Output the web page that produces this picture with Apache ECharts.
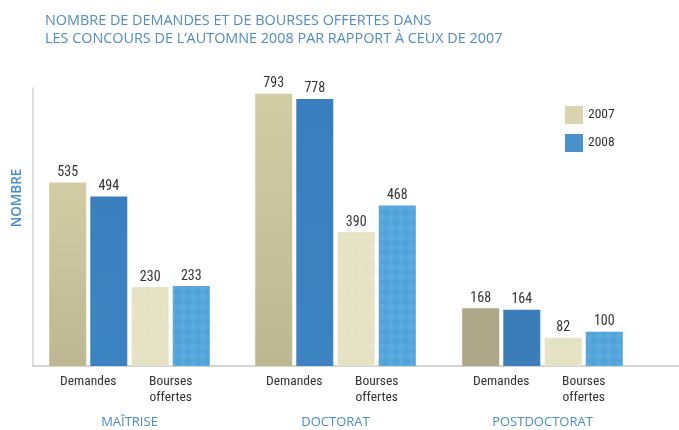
<!DOCTYPE html>
<html>
<head>
<meta charset="utf-8">
<script src="https://cdn.jsdelivr.net/npm/echarts@6/dist/echarts.min.js"></script>
<style>
  html, body { margin: 0; padding: 0; background: #fff; }
  #chart { width: 679px; height: 430px; }
</style>
</head>
<body>
<div id="chart"></div>
<script>
// data
const levels = ['MAÎTRISE', 'DOCTORAT', 'POSTDOCTORAT']
const kinds = ['Demandes', 'Bourses\noffertes']
const years = ['2007', '2008']
const values2007 = [[535, 230], [793, 390], [168, 82]]
const values2008 = [[494, 233], [778, 468], [164, 100]]

const blue = '#4a8dc6'
const narrow = '"Liberation Sans Narrow", "Roboto Condensed", "Liberation Sans", sans-serif'
const sans = '"Open Sans", sans-serif'

// bar colours: [demandes, bourses] per year, postdoc demandes a bit darker
const colors = {
  '2007': { dem: ['#d3cda6', '#bdb792'], bou: '#e5e1c3', post: '#aca887' },
  '2008': { dem: ['#3a7fbd', '#3c84c1'], bou: '#50a3da', post: '#3a7db8' }
}

// faint diamond checker like the print texture on the "bourses" bars
const checker = {
  symbol: 'rect', symbolSize: 1, rotation: Math.PI / 4,
  color: 'rgba(255,255,255,0.07)',
  dashArrayX: [[7, 7], [0, 7, 7, 0]], dashArrayY: [7, 0]
}

function barStyle(year, level, kind) {
  const c = colors[year]
  if (kind === 1) return { color: c.bou, decal: checker }
  if (level === 2) return { color: c.post }
  return {
    color: new echarts.graphic.LinearGradient(0, 0, 0, 1, [
      { offset: 0, color: c.dem[0] },
      { offset: 1, color: c.dem[1] }
    ])
  }
}

const grids = [
  { left: 47, width: 165, top: 88, bottom: 64 },
  { left: 253, width: 165, top: 88, bottom: 64 },
  { left: 460, width: 165, top: 88, bottom: 64 },
  { left: 33, right: 0, top: 88, bottom: 64 },
  // only carries the "NOMBRE" name, centred a little higher than the axis
  { left: 33, width: 1, top: 60, bottom: 94 }
].map(g => Object.assign({ outerBoundsMode: 'none', containLabel: false }, g))

const xAxes = levels.map((lvl, i) => ({
  gridIndex: i,
  type: 'category',
  data: kinds,
  axisLine: { show: false },
  axisTick: { show: false },
  axisLabel: { color: '#333', fontSize: 13.5, lineHeight: 16, margin: 8, fontFamily: narrow },
  name: lvl,
  nameLocation: 'middle',
  nameGap: 50,
  nameTextStyle: { color: blue, fontSize: 13, fontFamily: sans }
}))
xAxes.push({
  gridIndex: 3, type: 'value', min: 0, max: 1,
  axisLine: { show: true, lineStyle: { color: '#c8c8c8', width: 1.5 } },
  axisTick: { show: false }, axisLabel: { show: false }, splitLine: { show: false }
})
xAxes.push({ gridIndex: 4, type: 'value', show: false })

const yAxes = levels.map((lvl, i) => ({
  gridIndex: i, type: 'value', min: 0, max: 810, show: false
}))
yAxes.push({
  gridIndex: 3, type: 'value', min: 0, max: 1,
  axisLine: { show: true, lineStyle: { color: '#d2d2d2', width: 1.5 } },
  axisTick: { show: false }, axisLabel: { show: false }, splitLine: { show: false }
})
yAxes.push({
  gridIndex: 4, type: 'value', min: 0, max: 1,
  axisLine: { show: false }, axisTick: { show: false },
  axisLabel: { show: false }, splitLine: { show: false },
  name: 'NOMBRE', nameLocation: 'middle', nameRotate: 90, nameGap: 9,
  nameTextStyle: { color: blue, fontSize: 13.5, fontWeight: 600, fontFamily: sans }
})

const series = []
levels.forEach((lvl, i) => {
  years.forEach((yr) => {
    const vals = yr === '2007' ? values2007[i] : values2008[i]
    series.push({
      name: yr,
      type: 'bar',
      xAxisIndex: i,
      yAxisIndex: i,
      barWidth: 37,
      barGap: '11%',
      itemStyle: { color: yr === '2007' ? '#d8d4b0' : '#4a90c9' },
      data: vals.map((v, k) => ({ value: v, itemStyle: barStyle(yr, i, k) })),
      label: {
        show: true, position: 'top', distance: 3,
        color: '#333', fontSize: 14, fontFamily: narrow
      }
    })
  })
})

const chart = echarts.init(document.getElementById('chart'))
chart.setOption({
  animation: false,
  title: {
    text: 'NOMBRE DE DEMANDES ET DE BOURSES OFFERTES DANS\nLES CONCOURS DE L\u2019AUTOMNE 2008 PAR RAPPORT À CEUX DE 2007',
    left: 40,
    top: 7,
    textStyle: {
      color: '#4f8cc2', fontSize: 14.4, fontWeight: 'normal', lineHeight: 18,
      fontFamily: sans
    }
  },
  legend: {
    data: years,
    orient: 'vertical',
    left: 560,
    top: 101,
    itemWidth: 18,
    itemHeight: 18,
    itemGap: 10,
    icon: 'rect',
    textStyle: { color: '#333', fontSize: 13.5, fontFamily: narrow }
  },
  grid: grids,
  xAxis: xAxes,
  yAxis: yAxes,
  series: series
})
</script>
</body>
</html>
